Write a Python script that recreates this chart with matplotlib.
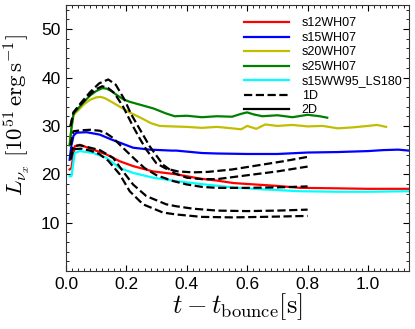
import matplotlib
matplotlib.use("Agg")
import matplotlib.pyplot as plt
from matplotlib.ticker import MultipleLocator
from matplotlib.lines import Line2D

plt.rcParams['font.family'] = ['Liberation Sans', 'DejaVu Sans']
plt.rcParams['mathtext.fontset'] = 'cm'

# 2D models (solid)
t_s12 = [0.012, 0.018, 0.029, 0.046, 0.09, 0.134, 0.178, 0.222, 0.288, 0.365, 0.445,
         0.50, 0.554, 0.60, 0.70, 0.775, 0.90, 1.00, 1.135]
L_s12 = [21.0, 21.3, 25.8, 26.1, 25.1, 24.1, 22.7, 21.7, 20.6, 20.0, 19.1,
         18.7, 18.2, 18.0, 17.6, 17.2, 17.1, 17.0, 17.0]

t_s15 = [0.012, 0.018, 0.025, 0.035, 0.068, 0.112, 0.15, 0.167, 0.18, 0.222, 0.277,
         0.35, 0.365, 0.45, 0.50, 0.60, 0.70, 0.80, 0.90, 1.00, 1.05, 1.10, 1.135]
L_s15 = [23.0, 26.0, 28.0, 28.6, 28.7, 28.2, 27.2, 26.8, 26.5, 25.5, 25.1,
         24.9, 24.9, 24.4, 24.3, 24.2, 24.2, 24.5, 24.6, 24.8, 25.0, 25.1, 24.9]

t_s20 = [0.012, 0.018, 0.025, 0.04, 0.06, 0.08, 0.10, 0.115, 0.13, 0.15, 0.18, 0.21,
         0.25, 0.28, 0.31, 0.35, 0.40, 0.45, 0.50, 0.55, 0.58, 0.60, 0.63, 0.66,
         0.70, 0.75, 0.80, 0.85, 0.90, 0.95, 1.00, 1.03, 1.06]
L_s20 = [26.0, 29.5, 32.3, 33.2, 34.5, 35.4, 35.9, 36.0, 35.7, 35.0, 33.9, 32.8,
         31.6, 30.6, 30.0, 29.9, 29.8, 29.6, 29.8, 29.5, 29.3, 30.0, 29.4, 30.3,
         30.0, 30.2, 29.9, 30.0, 29.5, 29.7, 30.0, 30.2, 29.8]

t_s25 = [0.012, 0.018, 0.025, 0.04, 0.06, 0.08, 0.10, 0.12, 0.135, 0.15, 0.17, 0.19,
         0.21, 0.25, 0.29, 0.33, 0.36, 0.40, 0.45, 0.50, 0.55, 0.58, 0.60, 0.62,
         0.65, 0.70, 0.75, 0.80, 0.84, 0.865]
L_s25 = [26.0, 29.5, 32.5, 33.6, 35.0, 36.3, 37.2, 37.8, 37.7, 37.2, 36.3, 35.5,
         35.0, 34.3, 33.6, 32.6, 32.0, 32.1, 31.8, 32.0, 31.9, 32.5, 32.8, 32.4,
         32.0, 32.2, 31.8, 32.3, 32.0, 31.7]

t_ls180 = [0.012, 0.018, 0.029, 0.046, 0.09, 0.134, 0.178, 0.222, 0.288, 0.365, 0.445,
           0.55, 0.65, 0.775, 0.90, 1.00, 1.135]
L_ls180 = [19.6, 19.6, 24.4, 24.8, 24.4, 23.4, 21.3, 20.3, 19.3, 18.6, 18.0,
           17.3, 16.9, 16.5, 16.4, 16.4, 16.5]

# 1D models (dashed)
t_1d_a = [0.015, 0.025, 0.05, 0.08, 0.11, 0.14, 0.165, 0.194, 0.215, 0.239, 0.277,
          0.321, 0.36, 0.40, 0.45, 0.50, 0.587, 0.70, 0.80]
L_1d_a = [30.0, 32.8, 34.8, 37.0, 38.8, 39.6, 38.5, 35.4, 32.5, 29.9, 25.8,
          22.0, 20.2, 19.3, 19.0, 19.0, 19.7, 20.6, 21.6]

t_1d_b = [0.015, 0.025, 0.05, 0.08, 0.10, 0.12, 0.14, 0.16, 0.189, 0.205, 0.222,
          0.245, 0.266, 0.299, 0.33, 0.37, 0.42, 0.47, 0.55, 0.65, 0.72, 0.80]
L_1d_b = [30.0, 32.8, 34.5, 36.5, 37.6, 38.2, 37.8, 36.8, 34.0, 32.0, 29.9,
          27.3, 25.1, 22.3, 21.2, 20.6, 20.4, 20.5, 21.0, 22.0, 22.7, 23.6]

t_1d_c = [0.015, 0.025, 0.05, 0.08, 0.112, 0.135, 0.156, 0.18, 0.20, 0.23, 0.26,
          0.30, 0.355, 0.40, 0.45, 0.50, 0.60, 0.70, 0.80]
L_1d_c = [26.0, 28.9, 29.1, 29.2, 29.0, 28.4, 27.5, 26.0, 24.8, 23.0, 21.3,
          19.8, 18.6, 17.9, 17.4, 17.2, 17.2, 17.3, 17.5]

t_1d_d = [0.015, 0.025, 0.046, 0.08, 0.112, 0.156, 0.189, 0.222, 0.266, 0.332, 0.365,
          0.42, 0.50, 0.60, 0.70, 0.80]
L_1d_d = [24.0, 25.8, 26.0, 25.5, 25.0, 23.4, 20.6, 17.9, 15.5, 13.8, 13.4,
          12.9, 12.5, 12.4, 12.5, 12.7]

t_1d_e = [0.015, 0.025, 0.05, 0.08, 0.11, 0.14, 0.178, 0.211, 0.255, 0.321, 0.365,
          0.45, 0.55, 0.65, 0.80]
L_1d_e = [23.0, 25.2, 25.3, 24.9, 24.2, 22.8, 20.0, 16.5, 13.8, 12.1, 11.7,
          11.2, 11.1, 11.2, 11.4]

models_2d = [
    (t_s12, L_s12, 'red', 's12WH07'),
    (t_s15, L_s15, 'blue', 's15WH07'),
    (t_s20, L_s20, 'y', 's20WH07'),
    (t_s25, L_s25, 'g', 's25WH07'),
    (t_ls180, L_ls180, 'cyan', 's15WW95_LS180'),
]
models_1d = [(t_1d_a, L_1d_a), (t_1d_b, L_1d_b), (t_1d_c, L_1d_c),
             (t_1d_d, L_1d_d), (t_1d_e, L_1d_e)]

fig = plt.figure(figsize=(4.15, 3.29), dpi=100)
ax = fig.add_axes([0.159, 0.176, 0.826, 0.809])

for t, L, c, lab in models_2d:
    ax.plot(t, L, color=c, lw=1.6, label=lab)
for t, L in models_1d:
    ax.plot(t, L, color='k', lw=1.6, ls='--')

handles, labels = ax.get_legend_handles_labels()
handles += [Line2D([], [], color='k', lw=1.6, ls='--'),
            Line2D([], [], color='k', lw=1.6, ls='-')]
labels += ['1D', '2D']
ax.legend(handles, labels, loc='upper right', bbox_to_anchor=(1.018, 1.0),
          frameon=False, fontsize=9, handlelength=3.6, handletextpad=1.0,
          labelspacing=0.2, borderaxespad=0.6)

ax.set_xlim(0, 1.135)
ax.set_ylim(0, 55)
ax.set_yticks([10, 20, 30, 40, 50])
ax.xaxis.set_major_locator(MultipleLocator(0.2))
ax.xaxis.set_minor_locator(MultipleLocator(0.02))
ax.yaxis.set_minor_locator(MultipleLocator(2))
ax.tick_params(which='both', direction='in', top=True, right=True, labelsize=12.5)
ax.tick_params(which='major', length=4, width=0.8, pad=4)
ax.tick_params(which='minor', length=2, width=0.6)
for sp in ax.spines.values():
    sp.set_color('#333333')

ax.set_xlabel(r'$t - t_{\rm bounce} [\rm s]$', fontsize=19, labelpad=0)
ax.set_ylabel(r'$L_{\nu_x}\ [10^{51}\,{\rm erg\,s^{-1}}]$', fontsize=16.5)
ax.yaxis.set_label_coords(-0.1, 0.585)

fig.savefig('out.png', dpi=100)
